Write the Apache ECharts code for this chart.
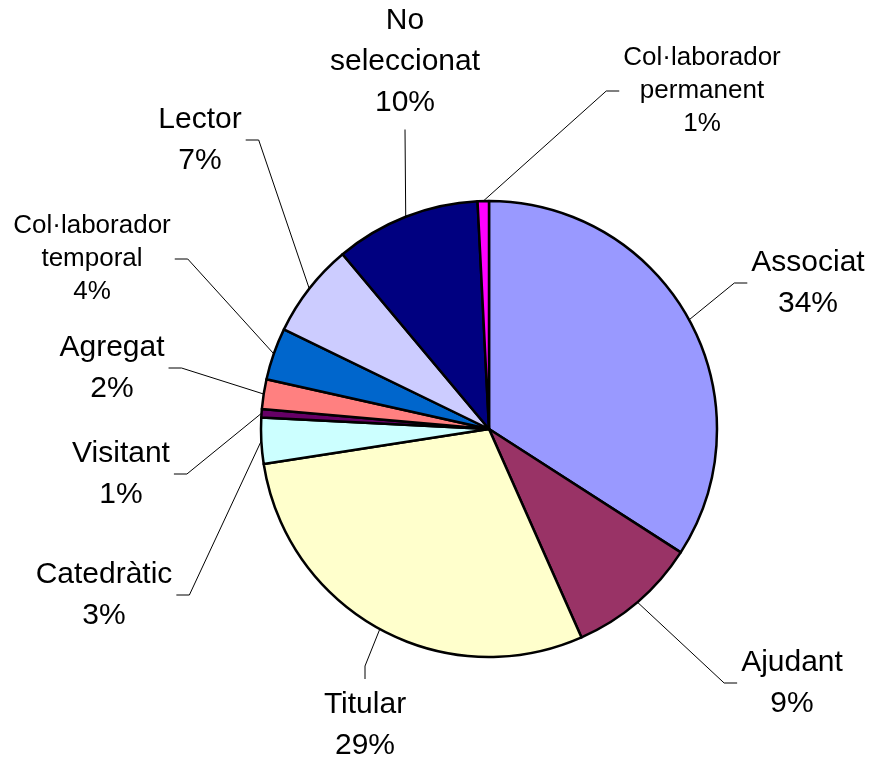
<!DOCTYPE html>
<html>
<head>
<meta charset="utf-8">
<title>Professorat per categoria</title>
<script src="https://cdn.jsdelivr.net/npm/echarts@6/dist/echarts.min.js"></script>
<style>
  html, body { margin: 0; padding: 0; background: #fff; }
  #chart { width: 882px; height: 760px; }
</style>
</head>
<body>
<div id="chart"></div>
<script>
// categories, clockwise from 12 o'clock
const categories = ['Associat', 'Ajudant', 'Titular', 'Catedràtic', 'Visitant', 'Agregat',
  'Col·laborador temporal', 'Lector', 'No seleccionat', 'Col·laborador permanent'];
// share of each category (%)
const values = [34.1, 9.25, 29.2, 3.25, 0.6, 2.1, 3.7, 6.7, 10.3, 0.8];
const colors = ['#9999FF', '#993366', '#FFFFCC', '#CCFFFF', '#660066', '#FF8080',
  '#0066CC', '#CCCCFF', '#000080', '#FF00FF'];

// label centre and the side of the label the leader line joins
const labelSpots = [
  [808, 283, 'left'],
  [792, 683, 'left'],
  [365, 725, 'top'],
  [104, 595, 'right'],
  [121, 474, 'right'],
  [112, 368, 'right'],
  [92, 259, 'right'],
  [200, 140, 'right'],
  [405, 62, 'bottom'],
  [702, 91, 'left']
];

const chart = echarts.init(document.getElementById('chart'));

const seriesData = categories.map(function (name, i) {
  const small = name.indexOf('Col·laborador') === 0;
  return {
    name: name,
    value: values[i],
    itemStyle: { color: colors[i] },
    label: small ? { fontSize: 26, lineHeight: 33 } : {}
  };
});

chart.setOption({
  backgroundColor: '#fff',
  animation: false,
  series: [{
    type: 'pie',
    center: [489, 429],
    radius: 228,
    startAngle: 90,
    clockwise: true,
    avoidLabelOverlap: false,
    percentPrecision: 0,
    itemStyle: { borderColor: '#000', borderWidth: 2.5 },
    emphasis: { disabled: true },
    label: {
      show: true,
      position: 'outside',
      color: '#000',
      fontFamily: 'Liberation Sans, Arial, sans-serif',
      fontSize: 30,
      lineHeight: 41,
      formatter: function (p) {
        return p.name.replace(' ', '\n') + '\n' + p.percent + '%';
      }
    },
    labelLine: {
      show: true,
      length: 20,
      length2: 13,
      lineStyle: { color: '#000', width: 1 }
    },
    labelLayout: function (params) {
      const spot = labelSpots[params.dataIndex];
      const x = spot[0], y = spot[1];
      const w = params.labelRect.width, h = params.labelRect.height;
      const from = params.labelLinePoints ? params.labelLinePoints[0] : null;
      let end, bend;
      if (spot[2] === 'left') {
        end = [x - w / 2 - 4, y];
        bend = [end[0] - 13, y];
      } else if (spot[2] === 'right') {
        end = [x + w / 2 + 4, y];
        bend = [end[0] + 13, y];
      } else if (spot[2] === 'top') {
        end = [x, y - h / 2 - 5];
        bend = [x, end[1] - 13];
      } else {
        end = [x, y + h / 2 + 6];
        bend = end;
      }
      return {
        x: x,
        y: y,
        align: 'center',
        verticalAlign: 'middle',
        labelLinePoints: from ? [from, bend, end] : undefined
      };
    },
    data: seriesData
  }]
});
</script>
</body>
</html>
